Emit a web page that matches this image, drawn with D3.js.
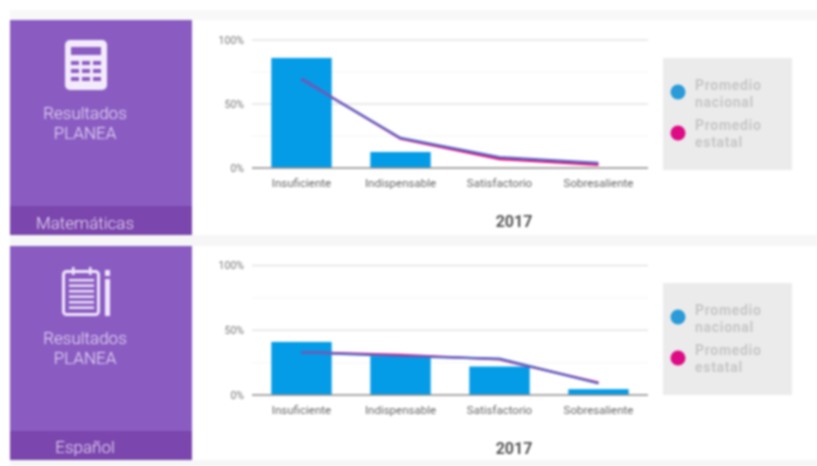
<!DOCTYPE html>
<html><head><meta charset="utf-8">
<script src="https://cdn.jsdelivr.net/npm/d3@7"></script>
<style>
html,body{margin:0;padding:0;background:#fff}
svg{display:block;filter:blur(1px)}
text{font-family:Roboto,"Open Sans",sans-serif}
</style></head><body><div id="c"></div>
<script>
const categories=["Insuficiente","Indispensable","Satisfactorio","Sobresaliente"];
const yTicks=[0,50,100];
const minorTicks=[25,75];
const subjects=["Matemáticas","Español"];
const barsMat=[86,12.5,0,0];
const nacionalMat=[69,23.5,8.5,4];
const estatalMat=[69.5,23,7,2.5];
const barsEsp=[41,30,22,4.5];
const nacionalEsp=[33,30,28,9];
const estatalEsp=[33,31,27.5,9.5];
const legendLabels=[["Promedio","nacional"],["Promedio","estatal"]];
const yearLabel="2017";
const panelTitle=["Resultados","PLANEA"];

const svg=d3.select("#c").append("svg").attr("width",817).attr("height",466);
svg.append("rect").attr("width",817).attr("height",466).attr("fill","#fff");
svg.append("rect").attr("x",10).attr("y",10).attr("width",807).attr("height",10).attr("fill","#f8f8f8");
svg.append("rect").attr("x",10).attr("y",235).attr("width",807).attr("height",11).attr("fill","#f6f6f6");
svg.append("rect").attr("x",10).attr("y",460).attr("width",807).attr("height",6).attr("fill","#f6f6f6");

const panels=[
 {top:20,foot:206,bot:235,y100:40,y0:168,bars:barsMat,nac:nacionalMat,est:estatalMat,subject:subjects[0],icon:"calc",legendY:58},
 {top:246,foot:431,bot:460,y100:265.5,y0:395,bars:barsEsp,nac:nacionalEsp,est:estatalEsp,subject:subjects[1],icon:"note",legendY:283}
];
const x=d3.scaleBand().domain(categories).range([252,648]).paddingInner(0.39).paddingOuter(0.195);
panels.forEach(p=>{
 const g=svg.append("g");
 g.append("rect").attr("x",10).attr("y",p.top).attr("width",182).attr("height",p.bot-p.top).attr("fill","#8a5cc2");
 g.append("rect").attr("x",10).attr("y",p.foot).attr("width",182).attr("height",p.bot-p.foot).attr("fill","#7b46ad");
 const txt=(yy,s)=>g.append("text").attr("x",85).attr("y",yy).attr("text-anchor","middle").attr("fill","#eadff7").attr("font-size",17).attr("font-weight",300).text(s);
 const off=p.icon==="calc"?0:-1;
 txt(p.top+99+off,panelTitle[0]);
 txt(p.top+119+off,panelTitle[1]);
 txt(p.bot-(p.icon==="calc"?6:7),p.subject);
 if(p.icon==="calc"){
  g.append("rect").attr("x",65).attr("y",40).attr("width",42).attr("height",50).attr("rx",5).attr("fill","#f3ebfb");
  g.append("rect").attr("x",71).attr("y",47).attr("width",30).attr("height",8).attr("fill","#8a5cc2");
  d3.range(3).forEach(r=>d3.range(3).forEach(c=>g.append("rect").attr("x",71+c*11).attr("y",61+r*8).attr("width",8).attr("height",4).attr("fill","#8a5cc2")));
 }else{
  g.append("rect").attr("x",63.5).attr("y",271.5).attr("width",35).attr("height",43).attr("rx",3).attr("fill","none").attr("stroke","#f0e6fa").attr("stroke-width",3);
  d3.range(6).forEach(r=>g.append("rect").attr("x",69).attr("y",279+r*5.5).attr("width",25).attr("height",2.4).attr("fill","#f0e6fa"));
  [72,89].forEach(c=>g.append("rect").attr("x",c).attr("y",267).attr("width",2.5).attr("height",8).attr("fill","#f0e6fa"));
  g.append("rect").attr("x",105).attr("y",270).attr("width",5).attr("height",6).attr("fill","#f0e6fa");
  g.append("rect").attr("x",105).attr("y",279).attr("width",5).attr("height",37).attr("fill","#f0e6fa");
 }
 const y=d3.scaleLinear().domain([0,100]).range([p.y0,p.y100]);
 const c=svg.append("g");
 c.selectAll(".minor").data(minorTicks).join("line").attr("x1",252).attr("x2",648).attr("y1",d=>y(d)).attr("y2",d=>y(d)).attr("stroke","#f5f5f5");
 c.selectAll(".major").data(yTicks.slice(1)).join("line").attr("x1",252).attr("x2",648).attr("y1",d=>y(d)).attr("y2",d=>y(d)).attr("stroke","#e4e4e4").attr("stroke-width",1.3);
 c.selectAll("rect").data(p.bars).join("rect").attr("x",(d,i)=>x(categories[i])).attr("width",x.bandwidth()).attr("y",d=>y(d)).attr("height",d=>y(0)-y(d)).attr("fill","#049ce6");
 c.append("line").attr("x1",252).attr("x2",648).attr("y1",y(0)).attr("y2",y(0)).attr("stroke","#8f8a8a").attr("stroke-width",1.5);
 const ln=d3.line().x((d,i)=>x(categories[i])+x.bandwidth()/2).y(d=>y(d));
 c.append("path").attr("d",ln(p.est)).attr("fill","none").attr("stroke","#e0107f").attr("stroke-width",2.4);
 c.append("path").attr("d",ln(p.nac)).attr("fill","none").attr("stroke","#5a68c4").attr("stroke-width",2.4);
 c.selectAll(".yl").data(yTicks).join("text").attr("x",244).attr("y",d=>y(d)+3.5).attr("text-anchor","end").attr("font-size",10.5).attr("fill","#777").text(d=>d+"%");
 c.selectAll(".xl").data(categories).join("text").attr("x",d=>x(d)+x.bandwidth()/2).attr("y",y(0)+19).attr("text-anchor","middle").attr("font-size",11.5).attr("fill","#666").text(d=>d);
 c.append("text").attr("x",514).attr("y",y(0)+59).attr("text-anchor","middle").attr("font-size",16).attr("font-weight",700).attr("fill","#555").text(yearLabel);
 const lg=svg.append("g");
 lg.append("rect").attr("x",663).attr("y",p.legendY).attr("width",129).attr("height",112).attr("fill","#ebebeb");
 [["#2a9bd8",34],["#de0c84",75]].forEach((s,i)=>{
  lg.append("circle").attr("cx",678).attr("cy",p.legendY+s[1]).attr("r",7.5).attr("fill",s[0]);
  legendLabels[i].forEach((t,j)=>lg.append("text").attr("x",695).attr("y",p.legendY+(i?72:32)+j*17).attr("font-size",14).attr("font-weight",700).attr("fill","#c6c6c6").attr("letter-spacing",0.7).text(t));
 });
});
</script></body></html>
